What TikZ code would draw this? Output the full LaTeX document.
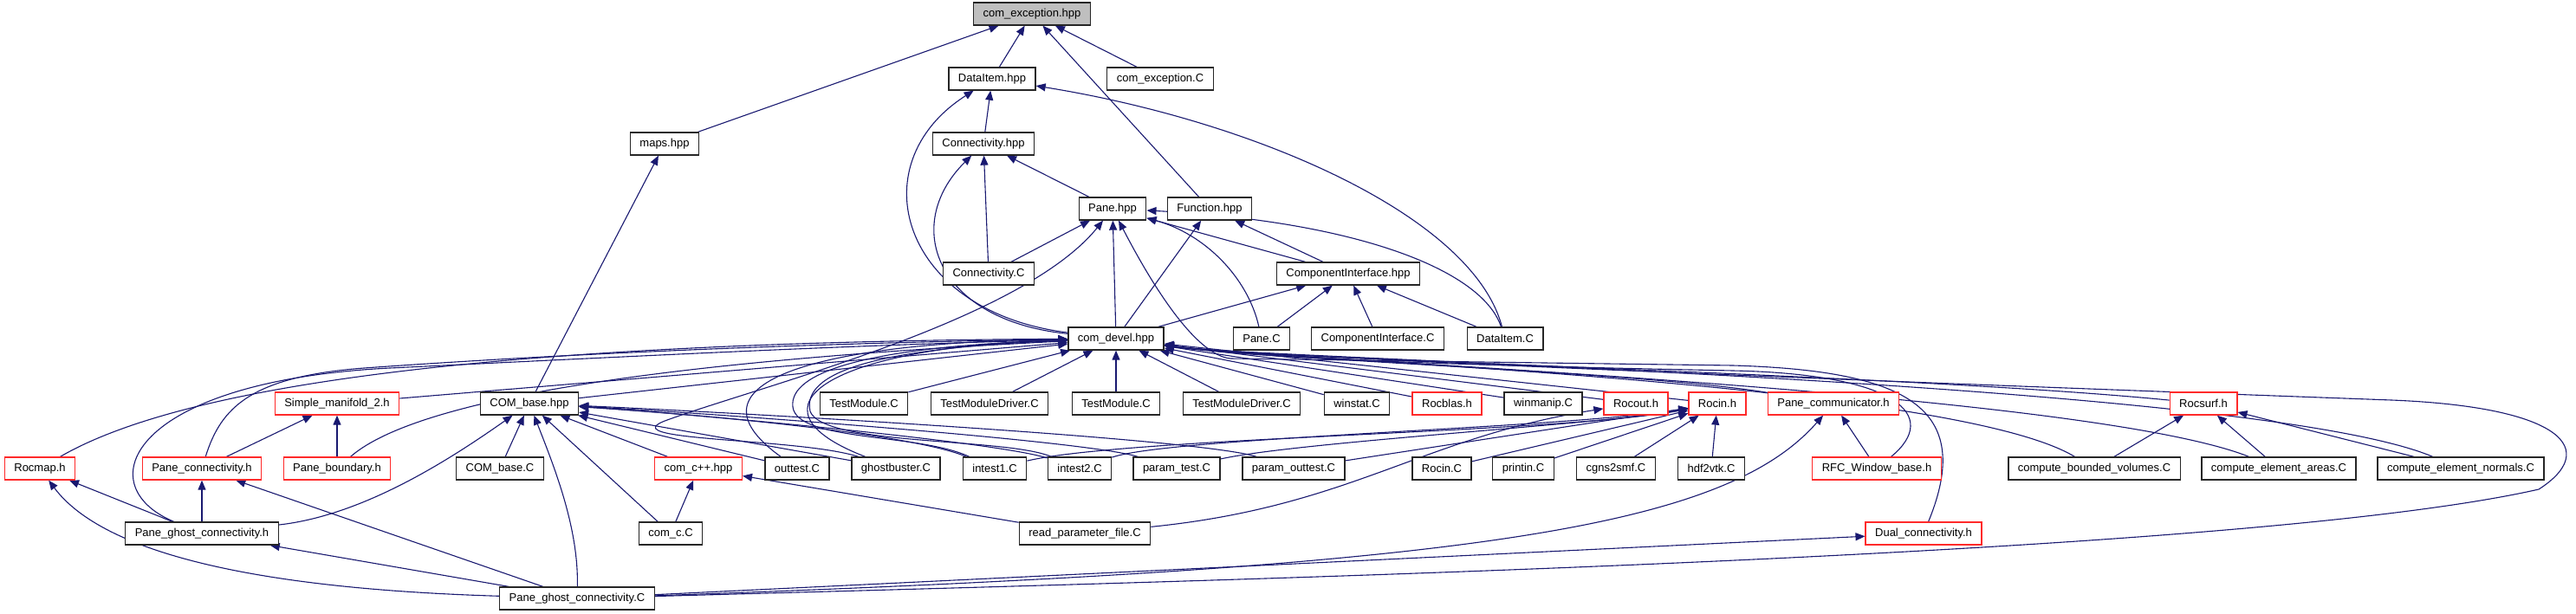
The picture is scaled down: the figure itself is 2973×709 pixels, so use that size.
\documentclass[tikz,border=0pt]{standalone}
\usepackage{fontspec}
\newfontfamily\dotfont{Liberation Sans}
\usetikzlibrary{arrows.meta}
\usetikzlibrary{backgrounds}

\definecolor{edgeblue}{HTML}{191970}
\definecolor{truncred}{HTML}{FF2A2A}

\tikzset{
  file/.style={draw=black!85, line width=1.3pt, fill=white, minimum height=26pt,
    inner xsep=11pt, inner ysep=0pt, font=\dotfont\fontsize{13}{15}\selectfont},
  trunc/.style={file, draw=truncred},
  inc/.style={draw=edgeblue, line width=1.1pt, -{Triangle[length=11pt,width=9pt]}},
}

\begin{document}
\begin{tikzpicture}[x=1pt, y=-1pt]
\useasboundingbox (0,0) rectangle (2973,709);

% Rows 0-5
\node[file, fill=black!25] (cexh) at (1191,16) {com\_exception.hpp};
\node[file] (dihpp) at (1145,91) {DataItem.hpp};
\node[file] (cexc) at (1339,91) {com\_exception.C};
\node[file] (maps) at (767,166) {maps.hpp};
\node[file] (conhpp) at (1135,166) {Connectivity.hpp};
\node[file] (panehpp) at (1284,241) {Pane.hpp};
\node[file] (funchpp) at (1396,241) {Function.hpp};
\node[file] (conc) at (1141,316) {Connectivity.C};
\node[file] (cihpp) at (1556,316) {ComponentInterface.hpp};
\node[file] (devel) at (1288,391) {com\_devel.hpp};
\node[file] (panec) at (1456,391) {Pane.C};
\node[file] (cic) at (1590,391) {ComponentInterface.C};
\node[file] (dic) at (1737,391) {DataItem.C};

% Row 6
\node[trunc] (simple) at (389,466) {Simple\_manifold\_2.h};
\node[file] (combase) at (611,466) {COM\_base.hpp};
\node[file] (tmA) at (997,466) {TestModule.C};
\node[file] (tmdA) at (1142,466) {TestModuleDriver.C};
\node[file] (tmB) at (1288,466) {TestModule.C};
\node[file] (tmdB) at (1433,466) {TestModuleDriver.C};
\node[file] (winstat) at (1566,466) {winstat.C};
\node[trunc] (rocblas) at (1670,466) {Rocblas.h};
\node[file] (winmanip) at (1781,466) {winmanip.C};
\node[trunc] (rocout) at (1888,466) {Rocout.h};
\node[trunc] (rocin) at (1982,466) {Rocin.h};
\node[trunc] (panecomm) at (2116,466) {Pane\_communicator.h};
\node[trunc] (rocsurf) at (2543,466) {Rocsurf.h};

% Row 7
\node[trunc] (rocmap) at (46,541) {Rocmap.h};
\node[trunc] (paneconn) at (233,541) {Pane\_connectivity.h};
\node[trunc] (paneb) at (389,541) {Pane\_boundary.h};
\node[file] (combasec) at (577,541) {COM\_base.C};
\node[trunc] (comcpp) at (806,541) {com\_c++.hpp};
\node[file] (outtest) at (920,541) {outtest.C};
\node[file] (ghost) at (1034,541) {ghostbuster.C};
\node[file] (intestA) at (1148,541) {intest1.C};
\node[file] (intestB) at (1246,541) {intest2.C};
\node[file] (paramtest) at (1358,541) {param\_test.C};
\node[file] (paramout) at (1493,541) {param\_outtest.C};
\node[file] (rocinc) at (1664,541) {Rocin.C};
\node[file] (printin) at (1758,541) {printin.C};
\node[file] (cgns) at (1865,541) {cgns2smf.C};
\node[file] (hdf) at (1975,541) {hdf2vtk.C};
\node[trunc] (rfc) at (2166,541) {RFC\_Window\_base.h};
\node[file] (cbv) at (2417,541) {compute\_bounded\_volumes.C};
\node[file] (cea) at (2630,541) {compute\_element\_areas.C};
\node[file] (cen) at (2840,541) {compute\_element\_normals.C};

% Rows 8-9
\node[file] (pgch) at (233,616) {Pane\_ghost\_connectivity.h};
\node[file] (comc) at (774,616) {com\_c.C};
\node[file] (rpf) at (1252,616) {read\_parameter\_file.C};
\node[trunc] (dual) at (2220,616) {Dual\_connectivity.h};
\node[file] (pgcc) at (666,691) {Pane\_ghost\_connectivity.C};

\begin{pgfonlayer}{background}
% com_exception.hpp
\draw[inc] (dihpp) -- (cexh);
\draw[inc] (cexc) -- (cexh);
\draw[inc] (maps) -- (cexh);
\draw[inc] (funchpp) -- (cexh);

% DataItem.hpp and Connectivity.hpp
\draw[inc] (conhpp) -- (dihpp);
\draw[inc] (devel) .. controls (1040,360) and (990,190) .. (dihpp);
\draw[inc] (dic) .. controls (1700,250) and (1450,140) .. (dihpp);
\draw[inc] (panehpp) -- (conhpp);
\draw[inc] (conc) -- (conhpp);
\draw[inc] (devel) .. controls (1080,370) and (1040,260) .. (conhpp);
\draw[inc] (combase) -- (maps);

% Pane.hpp
\draw[inc] (conc) -- (panehpp);
\draw[inc] (devel) -- (panehpp);
\draw[inc] (panec) .. controls (1440,320) and (1390,270) .. (panehpp);
\draw[inc] (cihpp) -- (panehpp);
\draw[inc] (dic) .. controls (1710,310) and (1560,255) .. (panehpp);
\draw[inc] (dual) .. controls (2280,470) and (2200,428) .. (2000,422) -- (1420,414)
  .. controls (1380,410) and (1330,330) .. (panehpp);
\draw[inc] (ghost) .. controls (920,505) and (700,510) .. (770,485)
  .. controls (880,445) and (1180,370) .. (panehpp);

% Function.hpp and ComponentInterface.hpp
\draw[inc] (devel) -- (funchpp);
\draw[inc] (cihpp) -- (funchpp);
\draw[inc] (devel) -- (cihpp);
\draw[inc] (panec) -- (cihpp);
\draw[inc] (cic) -- (cihpp);
\draw[inc] (dic) -- (cihpp);

% com_devel.hpp from the left
\draw[inc] (rocmap) .. controls (220,440) and (600,395) .. (devel);
\draw[inc] (paneconn) .. controls (255,470) and (290,435) .. (420,425)
  .. controls (700,405) and (1000,395) .. (devel);
\draw[inc] (pgch) .. controls (100,560) and (150,440) .. (450,425)
  .. controls (800,408) and (1000,398) .. (devel);
\draw[inc] (simple) -- (devel);
\draw[inc] (paneb) .. controls (470,470) and (700,420) .. (devel);
\draw[inc] (combase) -- (devel);
\draw[inc] (outtest) .. controls (780,440) and (950,395) .. (devel);
\draw[inc] (ghost) .. controls (850,470) and (960,400) .. (devel);
\draw[inc] (intestA) .. controls (1060,500) and (920,510) .. (915,470)
  .. controls (910,430) and (1000,400) .. (devel);
\draw[inc] (intestB) .. controls (1160,505) and (950,515) .. (935,475)
  .. controls (925,430) and (1010,402) .. (devel);
\draw[inc] (tmA) -- (devel);
\draw[inc] (tmdA) -- (devel);

% com_devel.hpp from below and the right
\draw[inc] (tmB) -- (devel);
\draw[inc] (tmdB) -- (devel);
\draw[inc] (winstat) -- (devel);
\draw[inc] (rocblas) -- (devel);
\draw[inc] (winmanip) -- (devel);
\draw[inc] (rocout) -- (devel);
\draw[inc] (rocin) -- (devel);
\draw[inc] (panecomm) .. controls (1900,430) and (1460,415) .. (devel);
\draw[inc] (rocsurf) .. controls (2200,432) and (1460,415) .. (devel);
\draw[inc] (rfc) .. controls (2240,480) and (2190,432) .. (2000,428)
  .. controls (1700,422) and (1460,415) .. (devel);
\draw[inc] (cbv) .. controls (2250,440) and (1460,415) .. (devel);
\draw[inc] (cea) .. controls (2400,450) and (1460,415) .. (devel);
\draw[inc] (cen) .. controls (2600,440) and (1460,415) .. (devel);
\draw[inc] (pgcc) .. controls (1500,668) and (2600,640) .. (2930,565)
  .. controls (3000,520) and (2960,470) .. (2760,462)
  .. controls (2300,445) and (1460,414) .. (devel);

% Rocmap side
\draw[inc] (paneconn) -- (simple);
\draw[inc] (paneb) -- (simple);
\draw[inc] (pgch) -- (rocmap);
\draw[inc] (pgcc) .. controls (300,680) and (120,640) .. (rocmap);
\draw[inc] (pgch) -- (paneconn);
\draw[inc] (pgcc) -- (paneconn);
\draw[inc] (pgcc) -- (pgch);

% COM_base.hpp
\draw[inc] (combasec) -- (combase);
\draw[inc] (pgch) .. controls (420,595) and (520,530) .. (combase);
\draw[inc] (pgcc) .. controls (668,610) and (640,540) .. (combase);
\draw[inc] (comc) -- (combase);
\draw[inc] (comcpp) -- (combase);
\draw[inc] (outtest) -- (combase);
\draw[inc] (ghost) -- (combase);
\draw[inc] (intestA) .. controls (1050,500) and (800,478) .. (combase);
\draw[inc] (intestB) .. controls (1150,510) and (800,478) .. (combase);
\draw[inc] (paramtest) .. controls (1250,508) and (800,476) .. (combase);
\draw[inc] (paramout) .. controls (1380,505) and (800,474) .. (combase);
\draw[inc] (comc) -- (comcpp);
\draw[inc] (rpf) -- (comcpp);

% Rocout.h and Rocin.h
\draw[inc] (rpf) .. controls (1560,585) and (1640,505) .. (rocout);
\draw[inc] (intestA) .. controls (1300,505) and (1800,500) .. (rocin);
\draw[inc] (intestB) .. controls (1350,505) and (1800,495) .. (rocin);
\draw[inc] (paramtest) .. controls (1500,510) and (1850,490) .. (rocin);
\draw[inc] (paramout) -- (rocin);
\draw[inc] (rocinc) -- (rocin);
\draw[inc] (printin) -- (rocin);
\draw[inc] (cgns) -- (rocin);
\draw[inc] (hdf) -- (rocin);

% Pane_communicator.h, Dual_connectivity.h, Rocsurf.h
\draw[inc] (rfc) -- (panecomm);
\draw[inc] (pgcc) .. controls (1700,655) and (1990,610) .. (panecomm);
\draw[inc] (pgcc) -- (dual);
\draw[inc] (cbv) -- (rocsurf);
\draw[inc] (cea) -- (rocsurf);
\draw[inc] (cen) -- (rocsurf);
\end{pgfonlayer}
\end{tikzpicture}
\end{document}
